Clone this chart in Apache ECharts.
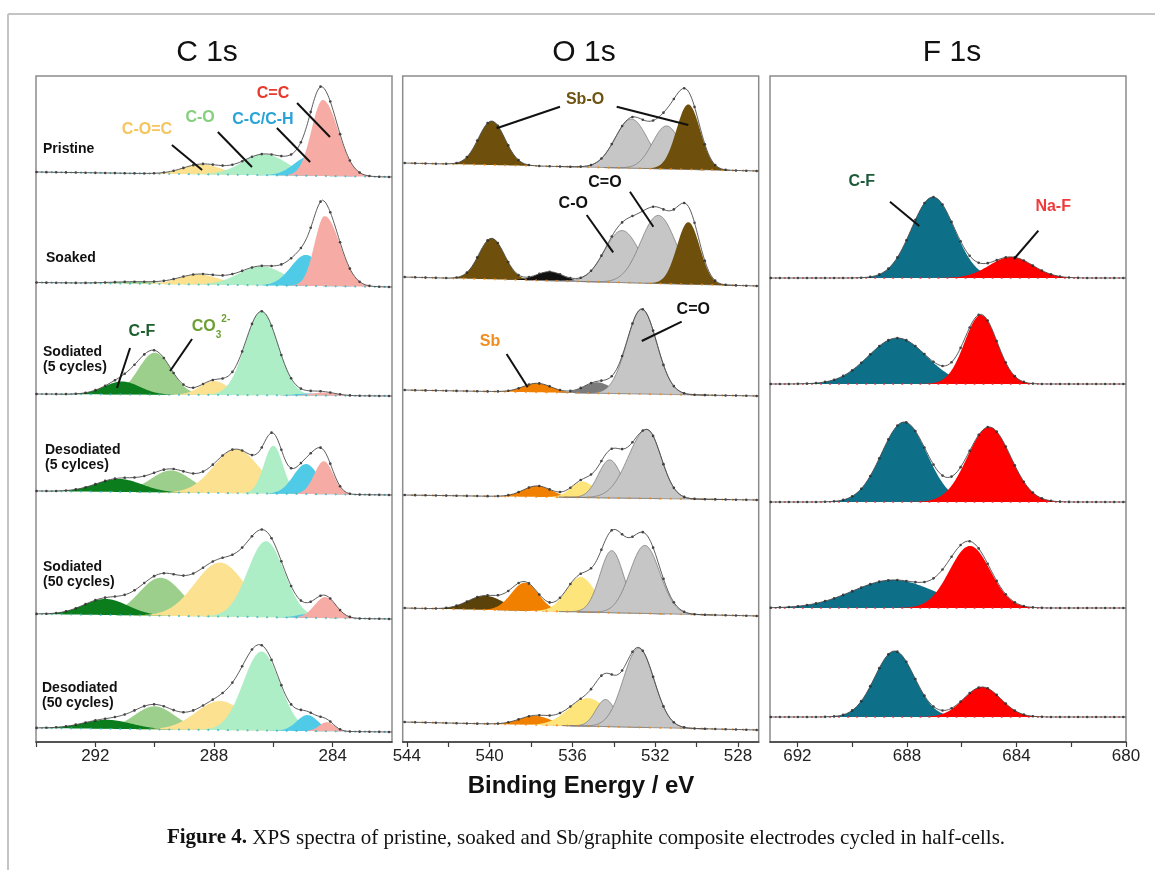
<!DOCTYPE html>
<html>
<head>
<meta charset="utf-8">
<script src="https://cdn.jsdelivr.net/npm/echarts@6/dist/echarts.min.js"></script>
<style>
  html, body { margin: 0; padding: 0; background: #fff; }
  #main { width: 1155px; height: 870px; }
</style>
</head>
<body>
<div id="main"></div>
<script>
// ---- values ----
const panelTitles = ['C 1s', 'O 1s', 'F 1s'];
const rowNames = ['Pristine', 'Soaked', 'Sodiated\n(5 cycles)', 'Desodiated\n(5 cylces)',
  'Sodiated\n(50 cycles)', 'Desodiated\n(50 cycles)'];
const cTickLabels = [292, 288, 284];
const oTickLabels = [544, 540, 536, 532, 528];
const fTickLabels = [692, 688, 684, 680];

// fitted components per row: [component, centre eV, height, FWHM high-BE side, FWHM low-BE side]
const cPeaks = [
  [['C-O=C', 288.4, 10, 1.5], ['C-O', 286.3, 21, 1.75], ['C-C/C-H', 284.8, 19, 1.2], ['C=C', 284.33, 76, 0.9, 1.2]],
  [['CO3', 290.6, 2, 2.0], ['C-O=C', 288.5, 10, 1.6], ['C-O', 286.4, 19, 1.8], ['C-C/C-H', 284.9, 31, 1.2], ['C=C', 284.27, 70, 0.8, 1.2]],
  [['CO3', 290.0, 42, 1.3], ['C-F', 291.1, 13, 1.4], ['C-O=C', 288.0, 14, 1.1], ['C-O', 286.4, 84, 1.3], ['C-C/C-H', 284.8, 2, 1.0], ['C=C', 284.3, 3, 1.0]],
  [['CO3', 289.45, 22, 1.6], ['C-F', 291.2, 13, 1.8], ['C-O=C', 287.25, 44, 1.8], ['C-O', 286.0, 48, 0.75], ['C-C/C-H', 284.9, 30, 1.0], ['C=C', 284.3, 33, 0.75]],
  [['CO3', 289.8, 38, 1.7], ['C-F', 291.65, 16, 1.75], ['C-O=C', 287.8, 54, 2.0], ['C-O', 286.25, 76, 1.45], ['C-C/C-H', 284.8, 4, 0.9], ['C=C', 284.25, 21, 0.85]],
  [['CO3', 290.0, 23, 1.6], ['C-F', 291.6, 9, 1.9], ['C-O=C', 287.8, 29, 1.9], ['C-O', 286.4, 79, 1.45], ['C-C/C-H', 284.85, 16, 0.85], ['C=C', 284.2, 9, 0.6]]
];
const oPeaks = [
  [['Sb-O', 539.9, 44, 1.5], ['Ogray', 533.15, 49, 1.85], ['Ogray', 531.45, 43, 1.6], ['Sb-O', 530.4, 65, 1.35]],
  [['Sb-O', 539.9, 41, 1.45], ['Oblack', 537.1, 9, 1.5], ['Ogray', 533.6, 52, 2.0], ['Ogray', 531.85, 68, 2.0], ['Sb-O', 530.4, 62, 1.3]],
  [['Sb', 537.7, 9, 1.6], ['Odark', 534.8, 11, 1.5], ['Ogray', 532.65, 85, 1.7]],
  [['Sb', 537.7, 11, 1.6], ['Oyellow', 535.5, 16, 1.3], ['Ogray', 534.2, 38, 1.3], ['Ogray', 532.4, 69, 2.1, 1.6]],
  [['Sb-Od', 540.2, 14, 2.0], ['Sb', 538.3, 28, 1.55], ['Oyellow', 535.6, 35, 1.65], ['Ogray', 534.1, 62, 1.35], ['Ogray', 532.5, 68, 1.7]],
  [['Sb', 537.8, 9, 1.8], ['Oyellow', 535.25, 28, 2.2], ['Ogray', 534.4, 27, 1.1], ['Ogray', 532.8, 79, 1.75]]
];
const fPeaks = [
  [],
  [['C-F F', 687.05, 81, 1.85], ['Na-F', 684.2, 21, 1.85]],
  [['C-F F', 688.35, 46, 2.5], ['Na-F', 685.3, 69, 1.4]],
  [['C-F F', 688.1, 80, 1.95], ['Na-F', 685.0, 75, 1.85]],
  [['C-F F', 688.5, 28, 3.5], ['Na-F', 685.7, 62, 1.75]],
  [['C-F F', 688.45, 66, 1.7], ['Na-F', 685.25, 30, 1.6]]
];
// background rise at the high binding-energy end of each row
const cBackground = [5, 4.5, 2, 4, 5, 4];
const oBackground = [8, 9, 6, 5, 8, 8];
const fBackground = [0, 0, 0, 0, 0, 0];
// intensity in the measured envelope not covered by a drawn component: [centre, height, FWHM]
const oUnfitted = [[], [], [], [], [[533.3, 15, 2.4]], []];

// ---- layout ----
const panels = [
  {left: 36, min: 282, max: 294, base: [177, 287, 396, 495, 619, 732], dot: 0.33, bgDot: '#38b6c6',
    peaks: cPeaks, bg: cBackground, extra: [], ticks: cTickLabels, minor: [284, 286, 288, 290, 292, 294]},
  {left: 402.7, min: 527, max: 544.2, base: [171, 286, 396, 500, 616, 730], dot: 0.5, bgDot: '#f0891c',
    peaks: oPeaks, bg: oBackground, extra: oUnfitted, ticks: oTickLabels, minor: [528, 530, 532, 534, 536, 538, 540, 542, 544]},
  {left: 770, min: 680, max: 693, base: [0, 278, 384, 502, 608, 717], dot: 0.33, bgDot: '#e23232',
    peaks: fPeaks, bg: fBackground, extra: [], ticks: fTickLabels, minor: [680, 682, 684, 686, 688, 690, 692]}
];
const panelW = 356, frameTop = 76, frameBottom = 742;

// annotations: [panel, row, text, label at [eV, I], leader from, leader to]
const notes = [
  [0, 0, 'C=C', [286.01, 83], [285.2, 74], [284.09, 40]],
  [0, 0, 'C-C/C-H', [286.35, 57], [285.88, 49], [284.76, 15]],
  [0, 0, 'C-O', [288.47, 59], [287.87, 45], [286.72, 10]],
  [0, 0, 'C-O=C', [290.26, 47], [289.42, 32], [288.4, 7]],
  [0, 2, 'C-F', [290.43, 64], [290.83, 48], [291.27, 8]],
  [0, 2, 'CO3', [288.1, 69], [288.74, 57], [289.48, 25]],
  [1, 0, 'Sb-O', [535.39, 71], [536.6, 64.3], [539.66, 42.7]],
  [1, 0, '', [535.39, 71], [533.86, 64.3], [530.4, 46]],
  [1, 1, 'C=O', [534.43, 103], [533.22, 94.3], [532.09, 59.3]],
  [1, 1, 'C-O', [535.96, 82.7], [535.31, 71], [534.03, 33.7]],
  [1, 2, 'C=O', [530.16, 86], [530.72, 74.3], [532.65, 55]],
  [1, 2, 'Sb', [539.98, 54.3], [539.18, 42], [538.16, 8.7]],
  [2, 1, 'C-F', [689.65, 96.3], [688.62, 76.3], [687.55, 52]],
  [2, 1, 'Na-F', [682.66, 71.3], [683.2, 47.3], [684.09, 19]]
];

const fill = {
  'C=C': '#f7aba5', 'C-C/C-H': '#4fcbe8', 'C-O': '#adeec7', 'C-O=C': '#fbe190',
  'CO3': '#9ccf8c', 'C-F': '#0b7d1c',
  'Sb-O': '#6e500c', 'Sb-Od': '#5a420a', 'Sb': '#f28000', 'Oyellow': '#fde57c',
  'Ogray': '#c6c6c6', 'Odark': '#7b7b7b', 'Oblack': '#111111',
  'C-F F': '#0e6f89', 'Na-F': '#ff0000'
};
const noteColor = [
  {'C=C': '#e8392b', 'C-C/C-H': '#2aa3d8', 'C-O': '#86cf7e', 'C-O=C': '#f5c55e', 'C-F': '#1d5e2d', 'CO3': '#6d9f36'},
  {'Sb-O': '#6e5210', 'C=O': '#111', 'C-O': '#111', 'Sb': '#f28c1e'},
  {'C-F': '#1b5a3a', 'Na-F': '#ef3b3b'}
];
const sans = 'Liberation Sans, Arial, sans-serif';

function comp(p, e) {
  const w = (e >= p[1] ? p[3] : (p[4] || p[3])) / 2.3548;
  return p[2] * Math.exp(-0.5 * Math.pow((e - p[1]) / w, 2));
}
function range(a, b, step) {
  const out = [];
  for (let e = a; e <= b + 1e-9; e += step) out.push(+e.toFixed(3));
  return out;
}

const grid = [], xAxis = [], yAxis = [], series = [];
panels.forEach((P, pi) => {
  grid.push({left: P.left, width: panelW, top: frameTop, height: frameBottom - frameTop,
    show: true, borderColor: '#8c8c8c', borderWidth: 1.5, backgroundColor: 'transparent', outerBoundsMode: 'none'});
  xAxis.push({type: 'value', gridIndex: pi, inverse: true, min: P.min, max: P.max, position: 'bottom',
    axisLine: {show: true, onZero: false, lineStyle: {color: '#3a3a3a', width: 1.5}},
    axisTick: {show: true, customValues: P.minor, length: 5, lineStyle: {color: '#3a3a3a', width: 1.2}},
    axisLabel: {customValues: P.ticks, fontSize: 17, color: '#222', margin: 6, fontFamily: sans},
    splitLine: {show: false}});
  yAxis.push({type: 'value', gridIndex: pi, show: false, min: 0, max: 1});
});

panels.forEach((P, pi) => {
  P.peaks.forEach((rowPeaks, ri) => {
    if (!rowPeaks.length) return;
    const gi = grid.length;
    grid.push({left: P.left, width: panelW, top: P.base[ri] - 130, height: 140, outerBoundsMode: 'none'});
    xAxis.push({type: 'value', gridIndex: gi, inverse: true, min: P.min, max: P.max, show: false});
    yAxis.push({type: 'value', gridIndex: gi, min: -10, max: 130, show: false});
    const tilt = P.bg[ri];
    const bg = e => tilt * (e - P.min) / (P.max - P.min);
    const extra = P.extra[ri] || [];

    // filled components, drawn in list order on the row background
    series.push({type: 'custom', xAxisIndex: gi, yAxisIndex: gi, silent: true,
      encode: {x: 0, y: 1},
      data: rowPeaks.map(p => [p[1], p[2]]),
      renderItem: (params, api) => {
        const p = rowPeaks[params.dataIndex];
        const s = Math.max(p[3], p[4] || p[3]) / 2.3548;
        const xs = range(Math.max(P.min, p[1] - 4.5 * s), Math.min(P.max, p[1] + 4.5 * s), 0.03);
        const pts = xs.map(e => api.coord([e, bg(e) + comp(p, e)]));
        for (let i = xs.length - 1; i >= 0; i--) pts.push(api.coord([xs[i], bg(xs[i])]));
        const gray = p[0] === 'Ogray';
        return {type: 'polygon', shape: {points: pts},
          style: {fill: fill[p[0]], stroke: gray ? '#7c7c7c' : null, lineWidth: gray ? 0.8 : 0}};
      }});

    // background line with its small coloured markers
    series.push({type: 'scatter', xAxisIndex: gi, yAxisIndex: gi, symbolSize: 2.2, silent: true,
      itemStyle: {color: P.bgDot},
      data: range(P.min + 0.25, P.max, P.dot).map(e => [e, bg(e)])});

    const total = e => bg(e) + rowPeaks.reduce((a, p) => a + comp(p, e), 0) +
      extra.reduce((a, q) => a + comp(['', q[0], q[1], q[2]], e), 0);
    const rowNotes = notes.filter(n => n[0] === pi && n[1] === ri);
    const nc = noteColor[pi];
    series.push({type: 'line', xAxisIndex: gi, yAxisIndex: gi, symbol: 'none', silent: true,
      lineStyle: {color: '#4a4a4a', width: 0.9},
      data: range(P.min, P.max, 0.03).map(e => [e, total(e)]),
      markLine: rowNotes.length ? {silent: true, symbol: ['none', 'none'], animation: false,
        label: {show: false}, lineStyle: {color: '#111', width: 2, type: 'solid'},
        emphasis: {disabled: true},
        data: rowNotes.map(n => [{coord: n[4]}, {coord: n[5]}])} : undefined,
      markPoint: rowNotes.length ? {silent: true, symbol: 'circle', symbolSize: 0, animation: false,
        data: rowNotes.filter(n => n[2]).map(n => ({coord: n[3], value: n[2],
          label: {show: true, position: 'inside', color: nc[n[2]] || '#111',
            fontSize: 16, fontWeight: 'bold', fontFamily: sans,
            formatter: n[2] === 'CO3' ? '{a|CO}{b|3}{c|2-}' : n[2],
            rich: {a: {fontSize: 16, fontWeight: 'bold', color: nc.CO3, fontFamily: sans, lineHeight: 26},
              b: {fontSize: 10, fontWeight: 'bold', color: nc.CO3, fontFamily: sans, verticalAlign: 'bottom', lineHeight: 26},
              c: {fontSize: 10, fontWeight: 'bold', color: nc.CO3, fontFamily: sans, verticalAlign: 'top', lineHeight: 26}}}}))} : undefined
    });
    series.push({type: 'scatter', xAxisIndex: gi, yAxisIndex: gi, symbolSize: 2.6, silent: true,
      itemStyle: {color: '#111'},
      data: range(P.min + 0.1, P.max, P.dot).map(e => [e, total(e)])});
  });
});

const rowLabelY = [149, 258, 360, 457.5, 575, 696];
const rowLabelX = [43, 46, 43, 45, 43, 42];
const serif = 'Liberation Serif, Times New Roman, serif';
const graphic = [
  {type: 'line', shape: {x1: 8, y1: 14, x2: 1155, y2: 14}, style: {stroke: '#c4c4c4', lineWidth: 2}},
  {type: 'line', shape: {x1: 8, y1: 14, x2: 8, y2: 870}, style: {stroke: '#c4c4c4', lineWidth: 2}},
  {type: 'text', x: 581, y: 786, style: {text: 'Binding Energy / eV', font: 'bold 24px ' + sans, fill: '#111',
    align: 'center', verticalAlign: 'middle'}},
  {type: 'text', x: 586, y: 838, style: {text: '{b|Figure 4.} XPS spectra of pristine, soaked and Sb/graphite composite electrodes cycled in half-cells.',
    fontFamily: serif, fontSize: 21, fill: '#111', align: 'center', verticalAlign: 'middle',
    rich: {b: {fontWeight: 'bold', fontFamily: serif, fontSize: 21}}}}
];
const titleX = [207, 584, 952];
panelTitles.forEach((t, i) => graphic.push({type: 'text', x: titleX[i], y: 53,
  style: {text: t, fontFamily: sans, fontSize: 30, fill: '#111', align: 'center', verticalAlign: 'middle'}}));
rowNames.forEach((t, i) => graphic.push({type: 'text', x: rowLabelX[i], y: rowLabelY[i],
  style: {text: t, fontFamily: sans, fontSize: 14, fontWeight: 'bold', lineHeight: 15, fill: '#111', verticalAlign: 'middle'}}));

const chart = echarts.init(document.getElementById('main'));
chart.setOption({animation: false, grid, xAxis, yAxis, series, graphic});
</script>
</body>
</html>
